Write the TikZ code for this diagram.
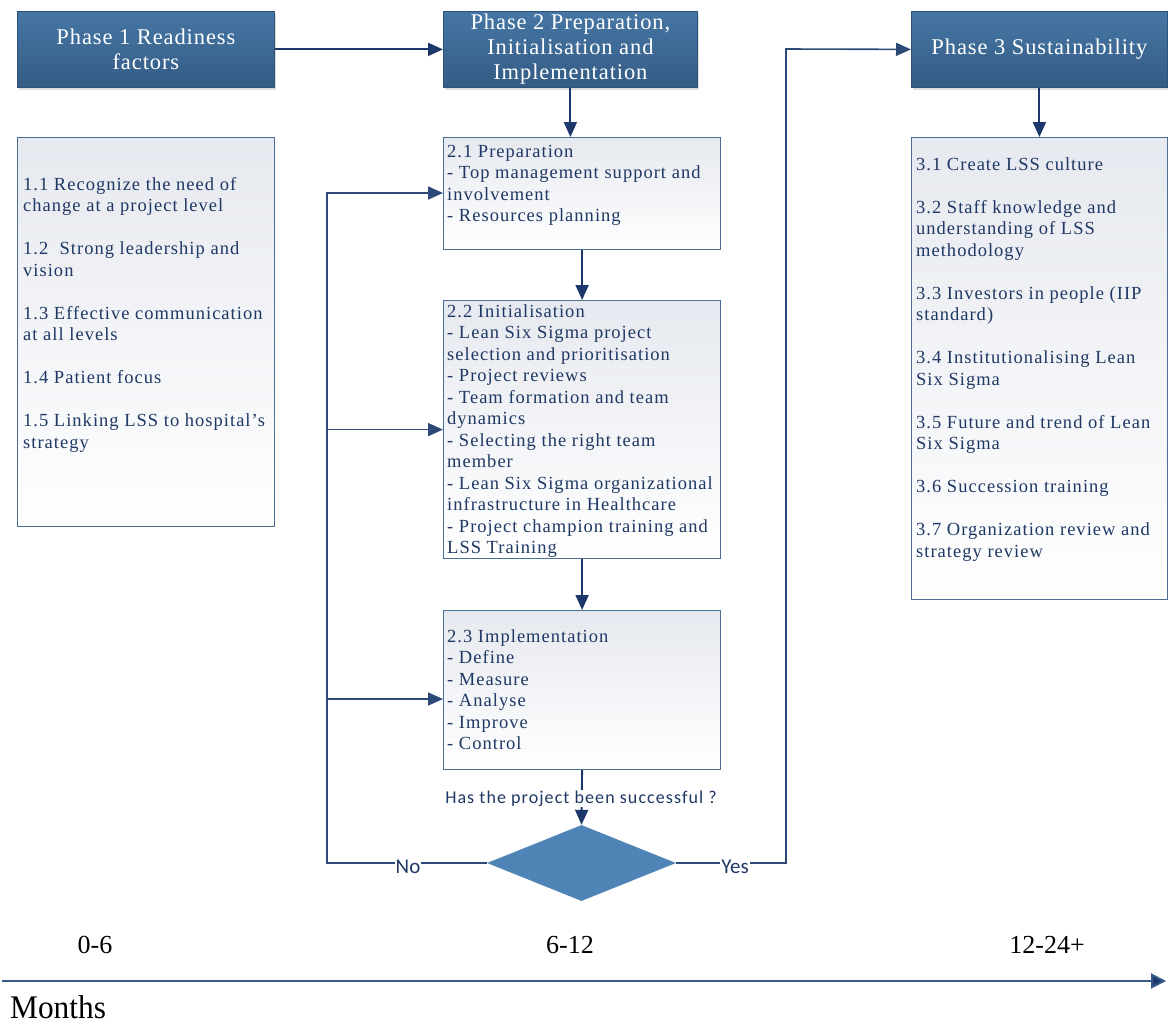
\documentclass[tikz,border=0pt]{standalone}
\usepackage{fontspec}
\setmainfont{Liberation Serif}
\newfontfamily\bodyfont[LetterSpace=5.5]{Liberation Serif}
\newfontfamily\headfont[LetterSpace=4]{Liberation Serif}
\newfontfamily\lblfont[LetterSpace=6]{Carlito}
\newfontfamily\ynfont{Carlito}
\newfontfamily\monthfont[FakeStretch=0.95]{Liberation Serif}
\usetikzlibrary{arrows.meta,shadows,shapes.geometric}
\definecolor{hdrA}{HTML}{4676A4}
\definecolor{hdrB}{HTML}{345C85}
\definecolor{hdrBorder}{HTML}{2F5378}
\definecolor{boxA}{HTML}{E6E9EF}
\definecolor{boxBorder}{HTML}{4C6F96}
\definecolor{navyText}{HTML}{1F3864}
\definecolor{arrowCol}{HTML}{1C3769}
\definecolor{fbCol}{HTML}{2C4A78}
\definecolor{diaCol}{HTML}{4F84B6}
\definecolor{tlCol}{HTML}{36598A}
\tikzset{
  hdr/.style={draw=hdrBorder, line width=0.8pt, top color=hdrA, bottom color=hdrB,
    drop shadow={shadow xshift=2pt, shadow yshift=-2.5pt, opacity=0.22, fill=black!60},
    text=white, align=center, inner sep=0pt, anchor=north west,
    font=\headfont\fontsize{22.5}{25}\selectfont},
  lbox/.style={draw=boxBorder, line width=1.2pt, top color=boxA, bottom color=white,
    inner sep=0pt, anchor=north west},
  btext/.style={anchor=north west, inner sep=0pt, align=left, text=navyText,
    font=\bodyfont\fontsize{18.5}{21.5}\selectfont},
  arr/.style={draw=arrowCol, line width=1.9pt, -{Triangle[length=15pt,width=13pt]}},
  fbarr/.style={draw=fbCol, line width=1.6pt, -{Triangle[length=15pt,width=13pt]}},
  yn/.style={fill=white, inner sep=1pt, text=navyText, anchor=base, font=\ynfont\fontsize{21}{24}\selectfont},
  tlabel/.style={anchor=base, inner sep=0pt, font=\fontsize{26}{30}\selectfont},
}
\begin{document}
\begin{tikzpicture}[x=1pt,y=-1pt]
\useasboundingbox (0,0) rectangle (1168,1034);

% phase headers
\node[hdr, minimum width=257pt, minimum height=76pt] (p1) at (17,11) {Phase 1 Readiness\\factors};
\node[hdr, minimum width=254pt, minimum height=76pt] (p2) at (443,11) {Phase 2 Preparation,\\Initialisation and\\Implementation};
\node[hdr, minimum width=256pt, minimum height=76pt] (p3) at (911,11) {Phase 3 Sustainability};

% content boxes
\node[lbox, minimum width=257pt, minimum height=389pt] (b1) at (17,137) {};
\node[lbox, minimum width=277pt, minimum height=112pt] (b21) at (443,137) {};
\node[lbox, minimum width=277pt, minimum height=258pt] (b22) at (443,300) {};
\node[lbox, minimum width=277pt, minimum height=159pt] (b23) at (443,610) {};
\node[lbox, minimum width=256pt, minimum height=462pt] (b3) at (911,137) {};

% box texts
\node[btext] (t1) at (23,174) {\rule{0pt}{16pt}1.1 Recognize the need of\\change at a project level\\[21.5pt]1.2\ \ Strong leadership and\\vision\\[21.5pt]1.3 Effective communication\\at all levels\\[21.5pt]1.4 Patient focus\\[21.5pt]1.5 Linking LSS to hospital’s\\strategy};
\node[btext] (t21) at (447,141) {\rule{0pt}{16pt}2.1 Preparation\\- Top management support and\\involvement\\- Resources planning};
\node[btext] (t22) at (447,301) {\rule{0pt}{16pt}2.2 Initialisation\\- Lean Six Sigma project\\selection and prioritisation\\- Project reviews\\- Team formation and team\\dynamics\\- Selecting the right team\\member\\- Lean Six Sigma organizational\\infrastructure in Healthcare\\- Project champion training and\\LSS Training};
\node[btext] (t23) at (447,626) {\rule{0pt}{16pt}2.3 Implementation\\- Define\\- Measure\\- Analyse\\- Improve\\- Control};
\node[btext] (t3) at (916,154) {\rule{0pt}{16pt}3.1 Create LSS culture\\[21.5pt]3.2 Staff knowledge and\\understanding of LSS\\methodology\\[21.5pt]3.3 Investors in people (IIP\\standard)\\[21.5pt]3.4 Institutionalising Lean\\Six Sigma\\[21.5pt]3.5 Future and trend of Lean\\Six Sigma\\[21.5pt]3.6 Succession training\\[21.5pt]3.7 Organization review and\\strategy review};

% decision
\node[diamond, fill=diaCol, inner sep=0pt, minimum width=189pt, minimum height=76pt] (dia) at (581.5,863) {};

% main flow arrows
\draw[arr] (p1.east) -- (p2.west);
\draw[arr] (p2.south) -- (p2.south |- b21.north);
\draw[arr] (p3.south) -- (p3.south |- b3.north);
\draw[arr] (b21.south) -- (b22.north);
\draw[arr] (b22.south) -- (b23.north);
\draw[arr] (b23.south) -- (dia.north);
\node[fill=white, inner sep=1pt, anchor=base, text=navyText, font=\lblfont\fontsize{18}{21}\selectfont] (q) at (581,803) {Has the project been successful ?};

% No loop
\coordinate (cl) at (327,863);
\coordinate (ctop) at (327,193);
\draw[fbarr] (dia.west) -- (cl) -- (ctop) -- (b21.west |- ctop);
\draw[fbarr] (cl |- b22.west) -- (b22.west);
\coordinate (c23) at (443,699);
\draw[fbarr] (cl |- c23) -- (c23);
\node[yn] (no) at (408,873) {No};

% Yes path
\coordinate (cy) at (786,863);
\coordinate (cyt) at (786,49);
\draw[fbarr] (dia.east) -- (cy) -- (cyt) -- (p3.west);
\node[yn] (yes) at (735,873) {Yes};

% timeline
\coordinate (tl0) at (2,981);
\coordinate (tl1) at (1166,981);
\draw[draw=tlCol, line width=2pt, -{Triangle[length=15pt,width=15pt,fill=arrowCol]}] (tl0) -- (tl1);
\node[tlabel] (m1) at (95,953) {0-6};
\node[tlabel] (m2) at (570,953) {6-12};
\node[tlabel] (m3) at (1047,953) {12-24+};
\node[anchor=base west, inner sep=0pt, font=\monthfont\fontsize{33}{36}\selectfont] (months) at (10,1018) {Months};
\end{tikzpicture}
\end{document}
